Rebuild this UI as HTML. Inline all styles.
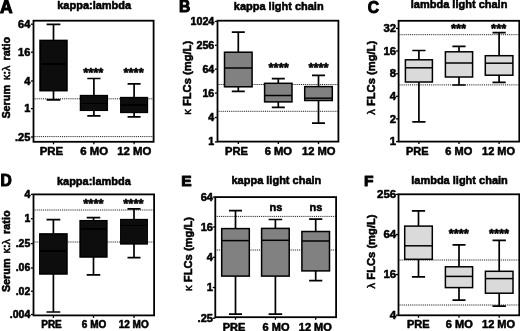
<!DOCTYPE html>
<html lang="en">
<head>
<meta charset="utf-8">
<title>Serum free light chains box plots</title>
<style>
html,body{margin:0;padding:0;background:#fff;}
body{width:520px;height:331px;overflow:hidden;}
svg{display:block;}
svg text{font-family:"Liberation Sans",sans-serif;font-weight:bold;fill:#000;stroke:#000;stroke-width:0.55;stroke-linejoin:round;}
.lt{stroke-width:1.0;}
.gk{font-weight:normal;stroke-width:0.5;}
.fr{fill:none;stroke:#000;stroke-width:1.8;}
.bx{stroke:#000;stroke-width:1.5;}
.md{stroke:#000;stroke-width:1.5;}
.wh{fill:none;stroke:#000;stroke-width:1.7;}
.tk{stroke:#000;stroke-width:1.3;}
.dot{stroke:#000;stroke-width:0.9;stroke-dasharray:1 0.9;}
.st{letter-spacing:0px;stroke-width:0.6;}
</style>
</head>
<body>
<svg width="520" height="331" viewBox="0 0 520 331">
<defs><filter id="soft" x="0" y="0" width="520" height="331" filterUnits="userSpaceOnUse"><feGaussianBlur stdDeviation="0.45"/></filter></defs>
<rect x="0" y="0" width="520" height="331" fill="#fff"/>
<g filter="url(#soft)">
<g class="panel" id="panel-A">
<line class="dot" x1="33.5" y1="98.8" x2="153.6" y2="98.8"/>
<line class="dot" x1="33.5" y1="136.6" x2="153.6" y2="136.6"/>
<path class="wh" d="M53.5 24.3V40.4M53.5 90.7V99.8M46.6 24.3H60.4M46.6 99.8H60.4"/>
<rect class="bx" x="40" y="40.4" width="27" height="50.3" fill="#111111"/>
<line class="md" x1="40" y1="64.1" x2="67" y2="64.1"/>
<path class="wh" d="M93.9 78.5V95.6M93.9 110.3V115.9M87.3 78.5H100.5M87.3 115.9H100.5"/>
<rect class="bx" x="80.5" y="95.6" width="26.8" height="14.7" fill="#111111"/>
<line class="md" x1="80.5" y1="103.6" x2="107.3" y2="103.6"/>
<path class="wh" d="M134.1 83.9V97.6M134.1 112.4V116.9M127.6 83.9H140.6M127.6 116.9H140.6"/>
<rect class="bx" x="120.8" y="97.6" width="26.6" height="14.8" fill="#111111"/>
<line class="md" x1="120.8" y1="105.1" x2="147.4" y2="105.1"/>
<rect class="fr" x="33.5" y="20.7" width="120.1" height="121.1"/>
<line class="tk" x1="30.9" y1="24.2" x2="33.5" y2="24.2"/>
<text class="tl" x="30.3" y="27.74" font-size="11" text-anchor="end">64</text>
<line class="tk" x1="30.9" y1="52.2" x2="33.5" y2="52.2"/>
<text class="tl" x="30.3" y="55.74" font-size="11" text-anchor="end">16</text>
<line class="tk" x1="30.9" y1="81" x2="33.5" y2="81"/>
<text class="tl" x="30.3" y="84.54" font-size="11" text-anchor="end">4</text>
<line class="tk" x1="30.9" y1="108.6" x2="33.5" y2="108.6"/>
<text class="tl" x="30.3" y="112.14" font-size="11" text-anchor="end">1</text>
<line class="tk" x1="30.9" y1="137" x2="33.5" y2="137"/>
<text class="tl" x="30.3" y="140.54" font-size="11" text-anchor="end">.25</text>
<line class="tk" x1="53.5" y1="141.8" x2="53.5" y2="144.3"/>
<line class="tk" x1="93.9" y1="141.8" x2="93.9" y2="144.3"/>
<line class="tk" x1="134.1" y1="141.8" x2="134.1" y2="144.3"/>
<text x="51.4" y="155" font-size="11.4" text-anchor="middle">PRE</text>
<text x="94.2" y="155" font-size="11.4" text-anchor="middle">6 MO</text>
<text x="134.3" y="155" font-size="11.4" text-anchor="middle">12 MO</text>
<text class="st" x="93.3" y="76.68" font-size="13" text-anchor="middle">****</text>
<text class="st" x="133.6" y="76.68" font-size="13" text-anchor="middle">****</text>
<text x="94.2" y="9" font-size="11" text-anchor="middle">kappa:lambda</text>
<text class="lt" x="0" y="12.6" font-size="17.5">A</text>
<text transform="translate(10.2 77.8) rotate(-90)" font-size="10.8" word-spacing="2.1" text-anchor="middle">Serum <tspan class="gk">κ</tspan>:<tspan class="gk">λ</tspan> ratio</text>
</g>
<g class="panel" id="panel-B">
<line class="dot" x1="217.5" y1="84.5" x2="338.4" y2="84.5"/>
<line class="dot" x1="217.5" y1="111.3" x2="338.4" y2="111.3"/>
<path class="wh" d="M238.3 32.1V52.2M238.3 86.8V91.3M231.8 32.1H244.8M231.8 91.3H244.8"/>
<rect class="bx" x="224.5" y="52.2" width="27.6" height="34.6" fill="#818181"/>
<line class="md" x1="224.5" y1="68" x2="252.1" y2="68"/>
<path class="wh" d="M278.3 78.6V83.3M278.3 101.9V107.4M271.8 78.6H284.8M271.8 107.4H284.8"/>
<rect class="bx" x="264.6" y="83.3" width="27.4" height="18.6" fill="#818181"/>
<line class="md" x1="264.6" y1="95.5" x2="292" y2="95.5"/>
<path class="wh" d="M318.5 75.3V86.6M318.5 100.5V123.2M312 75.3H325M312 123.2H325"/>
<rect class="bx" x="304.7" y="86.6" width="27.6" height="13.9" fill="#818181"/>
<line class="md" x1="304.7" y1="98.2" x2="332.3" y2="98.2"/>
<rect class="fr" x="217.5" y="20.7" width="120.9" height="120.9"/>
<line class="tk" x1="214.9" y1="21.4" x2="217.5" y2="21.4"/>
<text class="tl" x="214.3" y="24.83" font-size="10.7" text-anchor="end">1024</text>
<line class="tk" x1="214.9" y1="45.3" x2="217.5" y2="45.3"/>
<text class="tl" x="214.3" y="48.73" font-size="10.7" text-anchor="end">256</text>
<line class="tk" x1="214.9" y1="69.2" x2="217.5" y2="69.2"/>
<text class="tl" x="214.3" y="72.63" font-size="10.7" text-anchor="end">64</text>
<line class="tk" x1="214.9" y1="93.1" x2="217.5" y2="93.1"/>
<text class="tl" x="214.3" y="96.53" font-size="10.7" text-anchor="end">16</text>
<line class="tk" x1="214.9" y1="117.5" x2="217.5" y2="117.5"/>
<text class="tl" x="214.3" y="120.93" font-size="10.7" text-anchor="end">4</text>
<line class="tk" x1="214.9" y1="141.9" x2="217.5" y2="141.9"/>
<text class="tl" x="214.3" y="145.33" font-size="10.7" text-anchor="end">1</text>
<line class="tk" x1="238.3" y1="141.6" x2="238.3" y2="144.1"/>
<line class="tk" x1="278.3" y1="141.6" x2="278.3" y2="144.1"/>
<line class="tk" x1="318.5" y1="141.6" x2="318.5" y2="144.1"/>
<text x="236.6" y="155.2" font-size="11.2" text-anchor="middle">PRE</text>
<text x="278.4" y="155.2" font-size="11.2" text-anchor="middle">6 MO</text>
<text x="318.7" y="155.2" font-size="11.2" text-anchor="middle">12 MO</text>
<text class="st" x="278.7" y="71.68" font-size="13" text-anchor="middle">****</text>
<text class="st" x="318.5" y="71.68" font-size="13" text-anchor="middle">****</text>
<text x="278.7" y="10.3" font-size="11" text-anchor="middle">kappa light chain</text>
<text class="lt" x="179.1" y="12.4" font-size="15.6">B</text>
<text transform="translate(190.8 77.8) rotate(-90)" font-size="11.2" text-anchor="middle"><tspan class="gk">κ</tspan> FLCs (mg/L)</text>
</g>
<g class="panel" id="panel-C">
<line class="dot" x1="398.6" y1="34.7" x2="519.3" y2="34.7"/>
<line class="dot" x1="398.6" y1="84.9" x2="519.3" y2="84.9"/>
<path class="wh" d="M418.9 50.5V59.8M418.9 82V121.9M412.3 50.5H425.5M412.3 121.9H425.5"/>
<rect class="bx" x="405.4" y="59.8" width="27" height="22.2" fill="#dadada"/>
<line class="md" x1="405.4" y1="67.8" x2="432.4" y2="67.8"/>
<path class="wh" d="M459 46.4V51.8M459 77V85M452.4 46.4H465.6M452.4 85H465.6"/>
<rect class="bx" x="445.4" y="51.8" width="27.2" height="25.2" fill="#dadada"/>
<line class="md" x1="445.4" y1="63" x2="472.6" y2="63"/>
<path class="wh" d="M499.1 32.6V55.7M499.1 75.2V82.4M492.5 32.6H505.7M492.5 82.4H505.7"/>
<rect class="bx" x="485.3" y="55.7" width="27.6" height="19.5" fill="#dadada"/>
<line class="md" x1="485.3" y1="63.2" x2="512.9" y2="63.2"/>
<rect class="fr" x="398.6" y="20.8" width="120.7" height="120.8"/>
<line class="tk" x1="396" y1="28.4" x2="398.6" y2="28.4"/>
<text class="tl" x="396" y="32.05" font-size="11.3" text-anchor="end">32</text>
<line class="tk" x1="396" y1="51" x2="398.6" y2="51"/>
<text class="tl" x="396" y="54.65" font-size="11.3" text-anchor="end">16</text>
<line class="tk" x1="396" y1="73.8" x2="398.6" y2="73.8"/>
<text class="tl" x="396" y="77.45" font-size="11.3" text-anchor="end">8</text>
<line class="tk" x1="396" y1="96.3" x2="398.6" y2="96.3"/>
<text class="tl" x="396" y="99.95" font-size="11.3" text-anchor="end">4</text>
<line class="tk" x1="396" y1="118.9" x2="398.6" y2="118.9"/>
<text class="tl" x="396" y="122.55" font-size="11.3" text-anchor="end">2</text>
<line class="tk" x1="396" y1="141.6" x2="398.6" y2="141.6"/>
<text class="tl" x="396" y="145.25" font-size="11.3" text-anchor="end">1</text>
<line class="tk" x1="418.9" y1="141.6" x2="418.9" y2="144.1"/>
<line class="tk" x1="459" y1="141.6" x2="459" y2="144.1"/>
<line class="tk" x1="499.1" y1="141.6" x2="499.1" y2="144.1"/>
<text x="417.3" y="155.3" font-size="11" text-anchor="middle">PRE</text>
<text x="458.8" y="155.3" font-size="11" text-anchor="middle">6 MO</text>
<text x="498.6" y="155.3" font-size="11" text-anchor="middle">12 MO</text>
<text class="st" x="458.6" y="32.58" font-size="13" text-anchor="middle">***</text>
<text class="st" x="498.7" y="32.58" font-size="13" text-anchor="middle">***</text>
<text x="459.1" y="7.5" font-size="11" text-anchor="middle">lambda light chain</text>
<text class="lt" x="367.7" y="12.7" font-size="15.6">C</text>
<text transform="translate(375 77.8) rotate(-90)" font-size="11.2" text-anchor="middle"><tspan class="gk">λ</tspan> FLCs (mg/L)</text>
</g>
<g class="panel" id="panel-D">
<line class="dot" x1="33.5" y1="210" x2="154.1" y2="210"/>
<line class="dot" x1="33.5" y1="242" x2="154.1" y2="242"/>
<path class="wh" d="M53.4 219.7V233.9M53.4 274V312M46.5 219.7H60.3M46.5 312H60.3"/>
<rect class="bx" x="39.8" y="233.9" width="27.2" height="40.1" fill="#111111"/>
<line class="md" x1="39.8" y1="251.1" x2="67" y2="251.1"/>
<path class="wh" d="M93.5 217.7V220.7M93.5 257V274.8M86.7 217.7H100.3M86.7 274.8H100.3"/>
<rect class="bx" x="80.1" y="220.7" width="26.8" height="36.3" fill="#111111"/>
<line class="md" x1="80.1" y1="229" x2="106.9" y2="229"/>
<path class="wh" d="M134 208.9V219.6M134 243.9V257.6M127.5 208.9H140.5M127.5 257.6H140.5"/>
<rect class="bx" x="120.8" y="219.6" width="26.4" height="24.3" fill="#111111"/>
<line class="md" x1="120.8" y1="225.2" x2="147.2" y2="225.2"/>
<rect class="fr" x="33.5" y="194.4" width="120.6" height="121"/>
<line class="tk" x1="30.9" y1="194.4" x2="33.5" y2="194.4"/>
<text class="tl" x="30.3" y="197.76" font-size="10.5" text-anchor="end">4</text>
<line class="tk" x1="30.9" y1="218.7" x2="33.5" y2="218.7"/>
<text class="tl" x="30.3" y="222.06" font-size="10.5" text-anchor="end">1</text>
<line class="tk" x1="30.9" y1="243.6" x2="33.5" y2="243.6"/>
<text class="tl" x="30.3" y="246.96" font-size="10.5" text-anchor="end">.25</text>
<line class="tk" x1="30.9" y1="268" x2="33.5" y2="268"/>
<text class="tl" x="30.3" y="271.36" font-size="10.5" text-anchor="end">.06</text>
<line class="tk" x1="30.9" y1="291.3" x2="33.5" y2="291.3"/>
<text class="tl" x="30.3" y="294.66" font-size="10.5" text-anchor="end">.02</text>
<line class="tk" x1="30.9" y1="314.5" x2="33.5" y2="314.5"/>
<text class="tl" x="30.3" y="317.86" font-size="10.5" text-anchor="end">.004</text>
<line class="tk" x1="53.4" y1="315.4" x2="53.4" y2="317.9"/>
<line class="tk" x1="93.5" y1="315.4" x2="93.5" y2="317.9"/>
<line class="tk" x1="134" y1="315.4" x2="134" y2="317.9"/>
<text x="51.5" y="327.8" font-size="10" text-anchor="middle">PRE</text>
<text x="94.1" y="327.8" font-size="10" text-anchor="middle">6 MO</text>
<text x="133.7" y="327.8" font-size="10" text-anchor="middle">12 MO</text>
<text class="st" x="93.4" y="208.18" font-size="13" text-anchor="middle">****</text>
<text class="st" x="133.4" y="208.18" font-size="13" text-anchor="middle">****</text>
<text x="93.9" y="184.6" font-size="11" text-anchor="middle">kappa:lambda</text>
<text class="lt" x="0.6" y="186" font-size="15.6">D</text>
<text transform="translate(10.2 251.3) rotate(-90)" font-size="10.8" word-spacing="2.1" text-anchor="middle">Serum <tspan class="gk">κ</tspan>:<tspan class="gk">λ</tspan> ratio</text>
</g>
<g class="panel" id="panel-E">
<line class="dot" x1="215.3" y1="216.4" x2="336.1" y2="216.4"/>
<line class="dot" x1="215.3" y1="250" x2="336.1" y2="250"/>
<path class="wh" d="M235.5 210.7V228.6M235.5 276.1V314.2M229 210.7H242M229 314.2H242"/>
<rect class="bx" x="221.7" y="228.6" width="27.6" height="47.5" fill="#818181"/>
<line class="md" x1="221.7" y1="240.6" x2="249.3" y2="240.6"/>
<path class="wh" d="M275.4 219.5V228.4M275.4 276.1V314.2M268.6 219.5H282.2M268.6 314.2H282.2"/>
<rect class="bx" x="261.6" y="228.4" width="27.6" height="47.7" fill="#818181"/>
<line class="md" x1="261.6" y1="240.3" x2="289.2" y2="240.3"/>
<path class="wh" d="M315.7 219.2V231.5M315.7 270.9V280.6M309.1 219.2H322.3M309.1 280.6H322.3"/>
<rect class="bx" x="301.9" y="231.5" width="27.6" height="39.4" fill="#818181"/>
<line class="md" x1="301.9" y1="241" x2="329.5" y2="241"/>
<rect class="fr" x="215.3" y="197.1" width="120.8" height="120.1"/>
<line class="tk" x1="212.7" y1="197.1" x2="215.3" y2="197.1"/>
<text class="tl" x="213" y="200.67" font-size="11.1" text-anchor="end">64</text>
<line class="tk" x1="212.7" y1="227" x2="215.3" y2="227"/>
<text class="tl" x="213" y="230.57" font-size="11.1" text-anchor="end">16</text>
<line class="tk" x1="212.7" y1="257.3" x2="215.3" y2="257.3"/>
<text class="tl" x="213" y="260.87" font-size="11.1" text-anchor="end">4</text>
<line class="tk" x1="212.7" y1="287.5" x2="215.3" y2="287.5"/>
<text class="tl" x="213" y="291.07" font-size="11.1" text-anchor="end">1</text>
<line class="tk" x1="212.7" y1="318.2" x2="215.3" y2="318.2"/>
<text class="tl" x="213" y="321.77" font-size="11.1" text-anchor="end">.25</text>
<line class="tk" x1="235.5" y1="317.2" x2="235.5" y2="319.7"/>
<line class="tk" x1="275.4" y1="317.2" x2="275.4" y2="319.7"/>
<line class="tk" x1="315.7" y1="317.2" x2="315.7" y2="319.7"/>
<text x="234" y="330.8" font-size="11" text-anchor="middle">PRE</text>
<text x="276" y="330.8" font-size="11" text-anchor="middle">6 MO</text>
<text x="315.3" y="330.8" font-size="11" text-anchor="middle">12 MO</text>
<text x="276" y="211.4" font-size="11" text-anchor="middle">ns</text>
<text x="315.9" y="211.4" font-size="11" text-anchor="middle">ns</text>
<text x="276.4" y="184.1" font-size="11" text-anchor="middle">kappa light chain</text>
<text class="lt" x="181.2" y="186.1" font-size="15.5">E</text>
<text transform="translate(192.1 253.9) rotate(-90)" font-size="11.2" text-anchor="middle"><tspan class="gk">κ</tspan> FLCs (mg/L)</text>
</g>
<g class="panel" id="panel-F">
<line class="dot" x1="398.5" y1="260" x2="519.3" y2="260"/>
<line class="dot" x1="398.5" y1="305" x2="519.3" y2="305"/>
<path class="wh" d="M418.5 210.9V226.1M418.5 259.3V276.8M411.9 210.9H425.1M411.9 276.8H425.1"/>
<rect class="bx" x="404.7" y="226.1" width="27.6" height="33.2" fill="#dadada"/>
<line class="md" x1="404.7" y1="245.8" x2="432.3" y2="245.8"/>
<path class="wh" d="M459 244.8V266.8M459 287.6V300.2M452.5 244.8H465.5M452.5 300.2H465.5"/>
<rect class="bx" x="445.4" y="266.8" width="27.2" height="20.8" fill="#dadada"/>
<line class="md" x1="445.4" y1="276.4" x2="472.6" y2="276.4"/>
<path class="wh" d="M499.2 240.3V271.3M499.2 293.2V306.2M492.5 240.3H505.9M492.5 306.2H505.9"/>
<rect class="bx" x="485.4" y="271.3" width="27.6" height="21.9" fill="#dadada"/>
<line class="md" x1="485.4" y1="278.6" x2="513" y2="278.6"/>
<rect class="fr" x="398.5" y="194.3" width="120.8" height="121"/>
<line class="tk" x1="395.9" y1="194.4" x2="398.5" y2="194.4"/>
<text class="tl" x="396.2" y="198.12" font-size="11.5" text-anchor="end">256</text>
<line class="tk" x1="395.9" y1="234.5" x2="398.5" y2="234.5"/>
<text class="tl" x="396.2" y="238.22" font-size="11.5" text-anchor="end">64</text>
<line class="tk" x1="395.9" y1="274.6" x2="398.5" y2="274.6"/>
<text class="tl" x="396.2" y="278.32" font-size="11.5" text-anchor="end">16</text>
<line class="tk" x1="395.9" y1="315.2" x2="398.5" y2="315.2"/>
<text class="tl" x="396.2" y="318.92" font-size="11.5" text-anchor="end">4</text>
<line class="tk" x1="418.5" y1="315.3" x2="418.5" y2="317.8"/>
<line class="tk" x1="459" y1="315.3" x2="459" y2="317.8"/>
<line class="tk" x1="499.2" y1="315.3" x2="499.2" y2="317.8"/>
<text x="418.2" y="328" font-size="11" text-anchor="middle">PRE</text>
<text x="459.3" y="328" font-size="11" text-anchor="middle">6 MO</text>
<text x="498.6" y="328" font-size="11" text-anchor="middle">12 MO</text>
<text class="st" x="458.8" y="237.98" font-size="13" text-anchor="middle">****</text>
<text class="st" x="499" y="237.98" font-size="13" text-anchor="middle">****</text>
<text x="459.5" y="183.8" font-size="11" text-anchor="middle">lambda light chain</text>
<text class="lt" x="364" y="186.1" font-size="15.5">F</text>
<text transform="translate(374.9 251.4) rotate(-90)" font-size="11.2" text-anchor="middle"><tspan class="gk">λ</tspan> FLCs (mg/L)</text>
</g>
</g>
</svg>
</body>
</html>
